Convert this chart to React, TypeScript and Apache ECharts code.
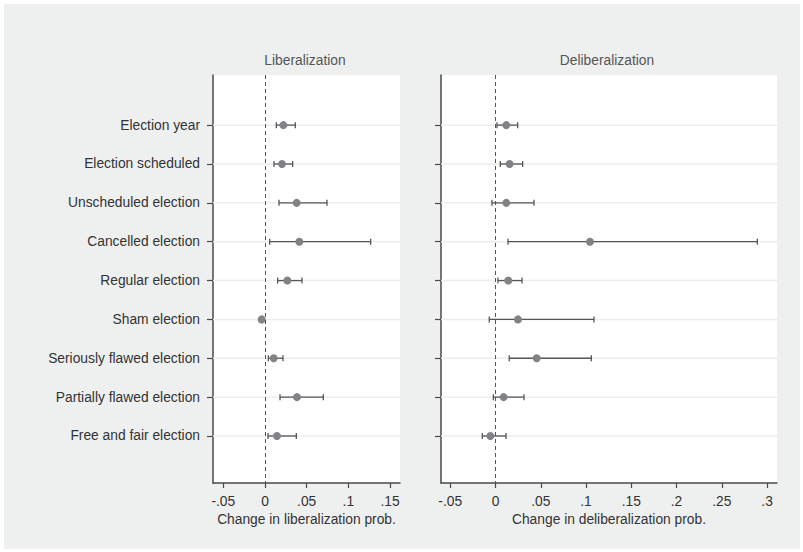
import React, { useEffect, useRef } from "react";
import * as echarts from "echarts";

const categories = [
  "Election year",
  "Election scheduled",
  "Unscheduled election",
  "Cancelled election",
  "Regular election",
  "Sham election",
  "Seriously flawed election",
  "Partially flawed election",
  "Free and fair election",
];

// Liberalization: point estimate, lower CI, upper CI
const libEst = [0.022, 0.0204, 0.038, 0.0412, 0.0268, -0.004, 0.0104, 0.0384, 0.0144];
const libLo = [0.0136, 0.0108, 0.0168, 0.0056, 0.0152, -0.0046, 0.004, 0.018, 0.0036];
const libHi = [0.0364, 0.0332, 0.0744, 0.1268, 0.0444, -0.0034, 0.0216, 0.07, 0.0376];

// Deliberalization
const delEst = [0.0119, 0.0156, 0.0119, 0.1044, 0.0141, 0.0248, 0.0455, 0.009, -0.0057];
const delLo = [0.0016, 0.0053, -0.0039, 0.0138, 0.0027, -0.0069, 0.0152, -0.0024, -0.0146];
const delHi = [0.0245, 0.03, 0.0425, 0.2893, 0.0293, 0.1088, 0.1059, 0.0315, 0.0116];

const libTicks = [-0.05, 0, 0.05, 0.1, 0.15];
const delTicks = [-0.05, 0, 0.05, 0.1, 0.15, 0.2, 0.25, 0.3];

const panelTitles = ["Liberalization", "Deliberalization"];
const axisTitles = ["Change in liberalization prob.", "Change in deliberalization prob."];

const FONT = "'Liberation Sans', Arial, sans-serif";
const FS = 13.8;
const rows = categories.map((_, i) => i);

function fmtTick(v: number): string {
  if (Math.abs(v) < 1e-9) return "0";
  const s = String(Math.round(v * 1000) / 1000);
  return s.replace(/^(-?)0\./, "$1.");
}

export default function App() {
  const ref = useRef<HTMLDivElement>(null);
  useEffect(() => {
    document.body.style.margin = "0";
    if (!ref.current) return;
    const chart = echarts.init(ref.current, null, { renderer: "svg" });

    const xAxis = (idx: number, min: number, max: number, ticks: number[]) => ({
      type: "value",
      gridIndex: idx,
      min,
      max,
      name: axisTitles[idx],
      nameLocation: "middle",
      nameGap: 29,
      nameTextStyle: { color: "#333", fontSize: FS, fontFamily: FONT },
      axisLine: { show: true, onZero: false, lineStyle: { color: "#4a4a4a", width: 1.5 } },
      axisTick: { show: true, length: 5, customValues: ticks, lineStyle: { color: "#4a4a4a", width: 1.2 } },
      axisLabel: {
        customValues: ticks,
        formatter: (v: number) => fmtTick(v),
        color: "#333",
        fontSize: FS,
        fontFamily: FONT,
        margin: 11,
      },
      splitLine: { show: false },
    });

    const yAxis = (idx: number, showLabels: boolean) => ({
      type: "value",
      gridIndex: idx,
      min: -1.29,
      max: 9.21,
      inverse: true,
      axisLine: { show: true, onZero: false, lineStyle: { color: "#4a4a4a", width: 1.5 } },
      axisTick: { show: true, length: 6, customValues: rows, lineStyle: { color: "#4a4a4a", width: 1.2 } },
      axisLabel: {
        show: showLabels,
        customValues: rows,
        formatter: (v: number) => categories[Math.round(v)] ?? "",
        color: "#333",
        fontSize: FS,
        fontFamily: FONT,
        margin: 13,
      },
      splitLine: { show: false },
    });

    const gridSeries = (idx: number) => ({
      type: "custom",
      xAxisIndex: idx,
      yAxisIndex: idx,
      silent: true,
      data: rows.map((r) => [0, r]),
      renderItem: (params: any, api: any) => {
        const cs = params.coordSys;
        const y = api.coord([0, api.value(1)])[1];
        return {
          type: "line",
          shape: { x1: cs.x, y1: y, x2: cs.x + cs.width, y2: y },
          style: { stroke: "#ededed", lineWidth: 1.5 },
        };
      },
      markLine: {
        silent: true,
        symbol: "none",
        label: { show: false },
        lineStyle: { color: "#555", type: [4, 3], width: 1 },
        data: [{ xAxis: 0 }],
      },
      z: 1,
    });

    const errSeries = (idx: number, lo: number[], hi: number[]) => ({
      type: "custom",
      xAxisIndex: idx,
      yAxisIndex: idx,
      silent: true,
      data: rows.map((r) => [lo[r], hi[r], r]),
      renderItem: (_params: any, api: any) => {
        const a = api.coord([api.value(0), api.value(2)]);
        const b = api.coord([api.value(1), api.value(2)]);
        const st = { stroke: "#555", lineWidth: 1.3 };
        const h = 3;
        return {
          type: "group",
          children: [
            { type: "line", shape: { x1: a[0], y1: a[1], x2: b[0], y2: b[1] }, style: st },
            { type: "line", shape: { x1: a[0], y1: a[1] - h, x2: a[0], y2: a[1] + h }, style: st },
            { type: "line", shape: { x1: b[0], y1: b[1] - h, x2: b[0], y2: b[1] + h }, style: st },
          ],
        };
      },
      z: 2,
    });

    const ptSeries = (idx: number, est: number[]) => ({
      type: "scatter",
      xAxisIndex: idx,
      yAxisIndex: idx,
      symbol: "circle",
      symbolSize: 8,
      itemStyle: { color: "#818186", opacity: 1 },
      data: rows.map((r) => [est[r], r]),
      z: 3,
    });

    chart.setOption({
      animation: false,
      backgroundColor: "transparent",
      grid: [
        { left: 213, top: 75, width: 187, height: 408, show: true, backgroundColor: "#fff", borderWidth: 0 },
        { left: 441, top: 75, width: 336, height: 408, show: true, backgroundColor: "#fff", borderWidth: 0 },
      ],
      xAxis: [xAxis(0, -0.0624, 0.162, libTicks), xAxis(1, -0.0602, 0.311, delTicks)],
      yAxis: [yAxis(0, true), yAxis(1, false)],
      graphic: [
        {
          type: "text",
          x: 305,
          y: 60,
          style: {
            text: panelTitles[0],
            fill: "#555",
            fontSize: FS,
            fontFamily: FONT,
            align: "center",
            verticalAlign: "middle",
          },
        },
        {
          type: "text",
          x: 607,
          y: 60,
          style: {
            text: panelTitles[1],
            fill: "#555",
            fontSize: FS,
            fontFamily: FONT,
            align: "center",
            verticalAlign: "middle",
          },
        },
      ],
      series: [
        gridSeries(0),
        errSeries(0, libLo, libHi),
        ptSeries(0, libEst),
        gridSeries(1),
        errSeries(1, delLo, delHi),
        ptSeries(1, delEst),
      ],
    });
    return () => chart.dispose();
  }, []);

  return (
    <div style={{ position: "relative", width: 803, height: 552, background: "#fff" }}>
      <div style={{ position: "absolute", left: 4, top: 4, width: 796, height: 545, background: "#eef0f0" }} />
      <div ref={ref} style={{ position: "absolute", left: 0, top: 0, width: 803, height: 552 }} />
    </div>
  );
}
